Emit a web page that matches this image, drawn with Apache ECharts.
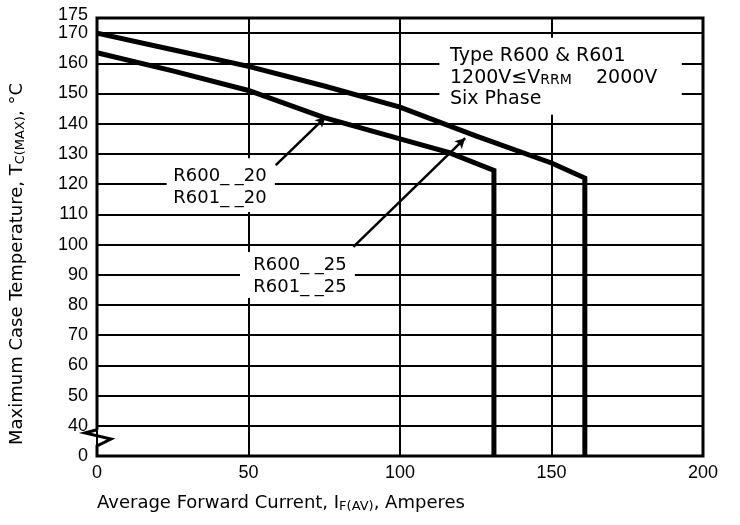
<!DOCTYPE html>
<html><head><meta charset="utf-8">
<script src="https://cdn.jsdelivr.net/npm/echarts@6/dist/echarts.min.js"></script>
<style>html,body{margin:0;padding:0;background:#fff}#c{width:740px;height:525px}</style>
</head><body><div id="c"></div>
<script>
// ---- data ----
const current20 = [0, 25, 50, 75, 100, 116, 131, 131];
const temp20    = [163.5, 157.5, 151, 142, 135, 130.5, 124.5, 30];
const current25 = [0, 25, 50, 75, 100, 125, 150, 161, 161];
const temp25    = [170, 164.5, 159, 152.5, 145.5, 136, 127, 122, 30];
const xTickValues = [0, 50, 100, 150, 200];
const yTickValues = [30, 40, 50, 60, 70, 80, 90, 100, 110, 120, 130, 140, 150, 160, 170, 175];
const yTickLabels = ['0', '40', '50', '60', '70', '80', '90', '100', '110', '120', '130', '140', '150', '160', '170', '175'];
const label20 = ['R600_ _20', 'R601_ _20'];
const label25 = ['R600_ _25', 'R601_ _25'];

const chart = echarts.init(document.getElementById('c'), null, {renderer: 'canvas'});
const tickFont = 'Liberation Sans, Arial, sans-serif';
const textFont = 'DejaVu Sans, Verdana, sans-serif';

const pairs = (xs, ys) => xs.map((x, i) => [x, ys[i]]);
const yMax = yTickValues[yTickValues.length - 1];

chart.setOption({
  animation: false,
  backgroundColor: '#fff',
  grid: {left: 97, right: 37, top: 18, bottom: 69},
  xAxis: {
    type: 'value', min: xTickValues[0], max: xTickValues[xTickValues.length - 1], interval: 50,
    axisLine: {show: false}, axisTick: {show: false},
    axisLabel: {color: '#000', fontFamily: tickFont, fontSize: 18, margin: 8, showMinLabel: true, showMaxLabel: true},
    splitLine: {show: true, lineStyle: {color: '#000', width: 2}}
  },
  yAxis: {
    type: 'value', min: yTickValues[0], max: yMax, interval: 10,
    axisLine: {show: false}, axisTick: {show: false},
    axisLabel: {
      color: '#000', fontFamily: tickFont, fontSize: 18, margin: 9,
      showMinLabel: true, showMaxLabel: false, hideOverlap: false,
      formatter: v => { const i = yTickValues.indexOf(v); return i >= 0 ? yTickLabels[i] : ''; }
    },
    splitLine: {show: true, lineStyle: {color: '#000', width: 2}}
  },
  series: [
    {
      type: 'line', data: pairs(current20, temp20), symbol: 'none', z: 3,
      lineStyle: {color: '#000', width: 5, join: 'miter'}
    },
    {
      type: 'line', data: pairs(current25, temp25), symbol: 'none', z: 3,
      lineStyle: {color: '#000', width: 5, join: 'miter'},
      markLine: {
        silent: true, symbol: ['none', 'arrow'], symbolSize: [8, 10],
        label: {show: false},
        lineStyle: {color: '#000', width: 2.5, type: 'solid'},
        data: [
          [{coord: [59, 126.3]}, {coord: [75.4, 142.2]}],
          [{coord: [84.6, 99.2]}, {coord: [121.5, 135.2]}]
        ]
      }
    }
  ]
});

const P = (x, y) => chart.convertToPixel({gridIndex: 0}, [x, y]);
const g = [];
// top tick label (175), placed through the y scale
const pm = P(0, yMax);
g.push({type: 'text', z: 6, x: pm[0] - 9, y: pm[1] - 3,
  style: {text: yTickLabels[yTickLabels.length - 1], fill: '#000', fontFamily: tickFont, fontSize: 18, align: 'right', verticalAlign: 'middle'}});
// plot border with axis break
const bl = P(0, 30), br = P(200, 30), tr = P(200, 175), tl = P(0, 175), b40 = P(0, 40);
const x0 = bl[0];
g.push({
  type: 'polyline', z: 5,
  shape: {points: [
    [x0, b40[1] + 4], tl, tr, br, bl, [x0, bl[1] - 10], [x0 + 14, bl[1] - 17], [x0 - 12, bl[1] - 23], [x0, b40[1] + 4]
  ]},
  style: {stroke: '#000', lineWidth: 3, fill: null, lineJoin: 'miter'}
});
// white boxes behind annotations
function box(a0, t0, a1, t1) {
  const p0 = P(a0, t0), p1 = P(a1, t1);
  g.push({type: 'rect', z: 1, shape: {x: p0[0], y: p0[1], width: p1[0] - p0[0], height: p1[1] - p0[1]}, style: {fill: '#fff'}});
}
box(113, 168.5, 193, 143);
box(23, 128.6, 58.7, 110.8);
box(47.2, 97.5, 85.1, 82.3);
function txt(a, t, text, align, size, rich) {
  const p = P(a, t);
  g.push({type: 'text', z: 6, x: p[0], y: p[1],
    style: {text: text, fill: '#000', fontFamily: textFont, fontSize: size, align: align, verticalAlign: 'middle', rich: rich}});
}
const subRich = {a: {fontFamily: textFont, fontSize: 19, fill: '#000'}, s: {fontFamily: textFont, fontSize: 14, fill: '#000', verticalAlign: 'bottom'}};
txt(116.5, 162.5, 'Type R600 & R601', 'left', 19);
txt(116.5, 155.2, '{a|1200V≤V}{s|RRM}{a|    2000V}', 'left', 19, subRich);
txt(116.5, 148, 'Six Phase', 'left', 19);
txt(40.6, 122.7, label20[0], 'center', 18);
txt(40.6, 115.4, label20[1], 'center', 18);
txt(67, 93.2, label25[0], 'center', 18);
txt(67, 86, label25[1], 'center', 18);
// axis titles
const xr = P(0, 30);
g.push({type: 'text', z: 6, x: xr[0], y: 503,
  style: {text: '{a|Average Forward Current, I}{s|F(AV)}{a|, Amperes}', fontFamily: textFont, fontSize: 18, fill: '#000',
    align: 'left', verticalAlign: 'middle', rich: {a: {fontFamily: textFont, fontSize: 18, fill: '#000'}, s: {fontFamily: textFont, fontSize: 13, fill: '#000', padding: [8, 0, 0, 0]}}}});
g.push({type: 'text', z: 6, x: 17, y: 264, rotation: Math.PI / 2,
  style: {text: '{a|Maximum Case Temperature, T}{s|C(MAX)}{a|, °C}', fontFamily: textFont, fontSize: 18, fill: '#000',
    align: 'center', verticalAlign: 'middle', rich: {a: {fontFamily: textFont, fontSize: 18, fill: '#000'}, s: {fontFamily: textFont, fontSize: 13, fill: '#000', padding: [8, 0, 0, 0]}}}});
chart.setOption({graphic: {elements: g}});
</script>
</body></html>
